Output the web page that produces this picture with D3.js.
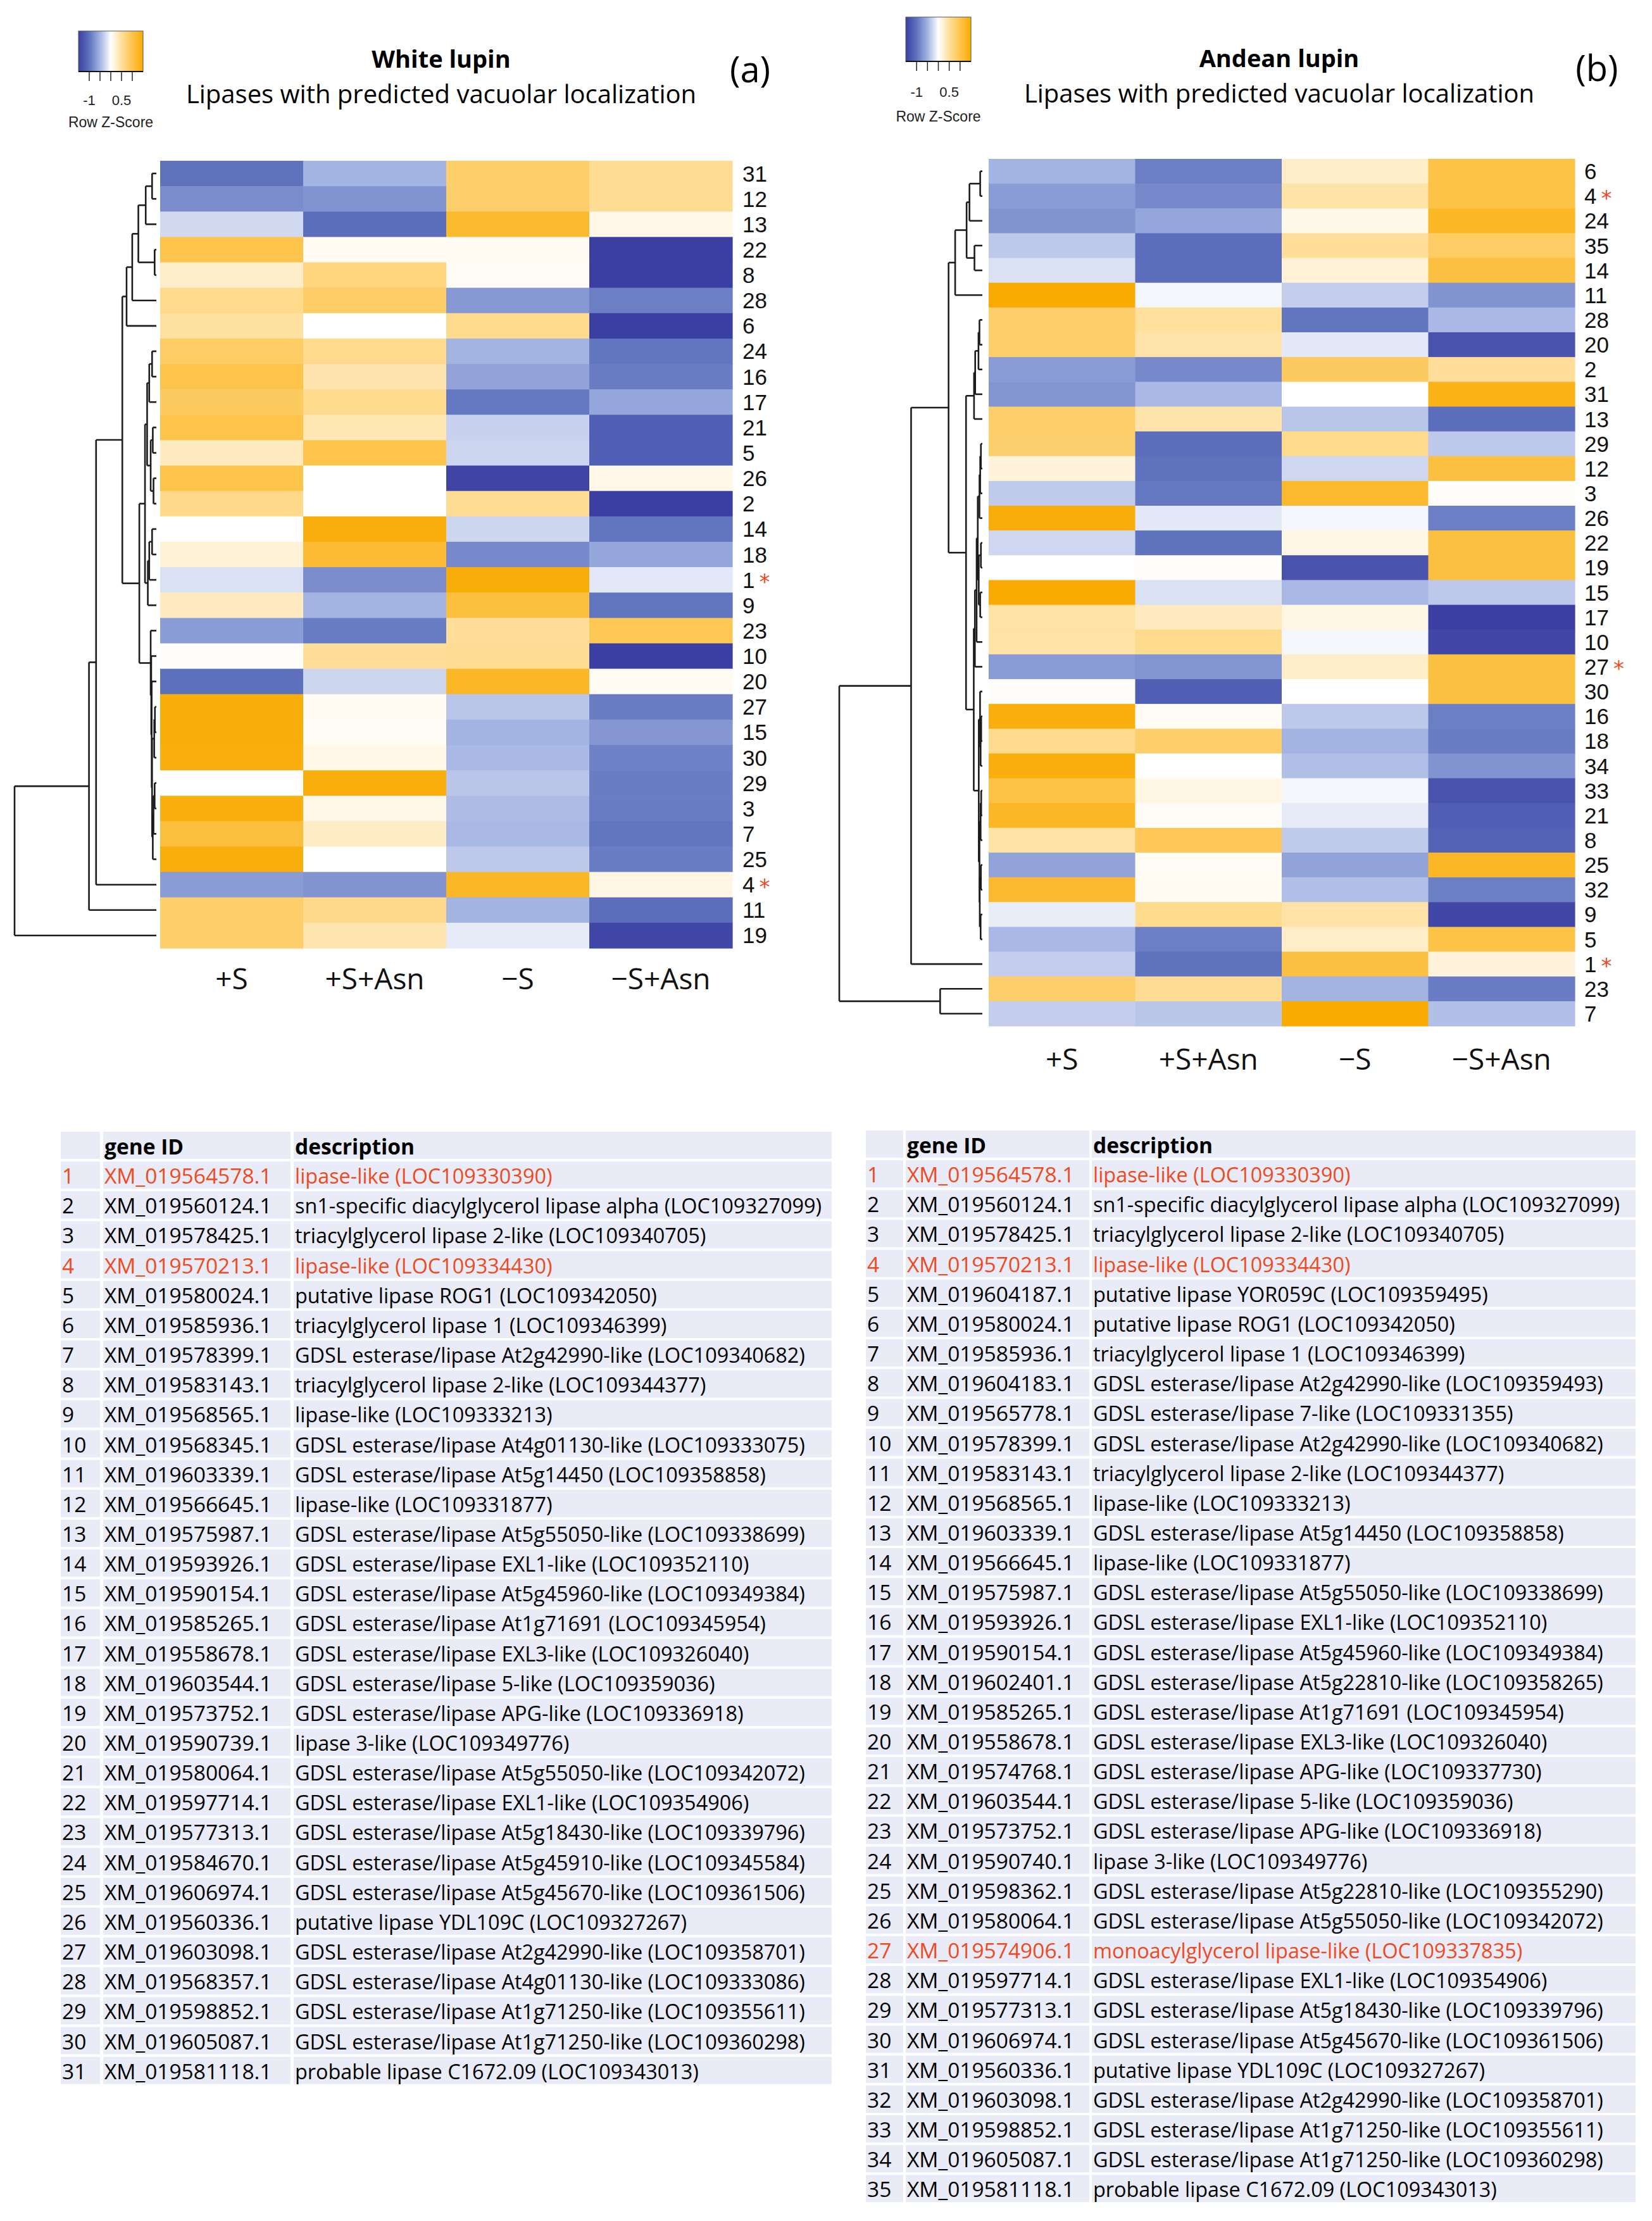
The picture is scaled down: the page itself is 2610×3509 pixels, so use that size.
<!DOCTYPE html>
<html><head><meta charset="utf-8">
<script src="https://cdn.jsdelivr.net/npm/d3@7"></script>
<style>html,body{margin:0;padding:0;background:#fff;}svg{display:block;}</style>
</head><body><svg id="chart" width="2610" height="3509"></svg>
<script>
// ---------------- DATA ----------------
const conditions = ["+S", "+S+Asn", "\u2212S", "\u2212S+Asn"];

// Panel (a) White lupin: row order top→bottom
const rowsA = ["31","12","13","22","8","28","6","24","16","17","21","5","26","2","14","18","1","9","23","10","20","27","15","30","29","3","7","25","4","11","19"];
const zA = [
  [-1.0,-0.5,0.8,0.55],[-0.8,-0.75,0.8,0.55],[-0.25,-1.05,1.2,0.12],[1.0,0.06,0.06,-1.5],
  [0.28,0.7,0.05,-1.5],[0.6,0.85,-0.7,-0.9],[0.48,0,0.6,-1.5],[0.85,0.6,-0.5,-0.97],
  [1.0,0.42,-0.62,-0.92],[0.88,0.6,-0.95,-0.6],[1.0,0.38,-0.3,-1.2],[0.33,1.0,-0.27,-1.2],
  [1.0,0,-1.45,0.12],[0.62,0,0.55,-1.5],[0,1.4,-0.27,-0.97],[0.2,1.15,-0.82,-0.6],
  [-0.2,-0.8,1.45,-0.15],[0.33,-0.5,1.1,-0.97],[-0.68,-0.92,0.52,0.95],[0.03,0.52,0.55,-1.5],
  [-1.02,-0.27,1.25,0.06],[1.45,0.06,-0.38,-0.92],[1.45,0.05,-0.5,-0.72],[1.4,0.12,-0.47,-0.88],
  [0,1.42,-0.38,-0.92],[1.4,0.12,-0.44,-0.92],[1.1,0.3,-0.47,-0.97],[1.42,0,-0.36,-0.92],
  [-0.68,-0.75,1.25,0.14],[0.82,0.62,-0.5,-1.05],[0.82,0.4,-0.13,-1.42]
];
const starredA = ["1","4"];
// dendrogram: [height, left, right]
const treeA =
[1.0,
  [0.475,
    [0.425,
      [0.24,
        [0.21,[0.17,[0.127,[0.075,[0.03,"31","12"],"13"],[0.012,"22","8"]],"28"],"6"],
        [0.12,
          [0.08,
            [0.065,[0.05,[0.03,"24","16"],"17"],[0.04,[0.025,"21","5"],[0.02,"26","2"]]],
            [0.06,[0.05,[0.03,"14","18"],"1"],"9"]
          ],
          [0.04,"23",[0.036,"10",[0.033,"20",[0.03,[0.015,[0.01,"27","15"],"30"],[0.025,[0.02,[0.012,"29","3"],"7"],"25"]]]]]
        ]
      ],
      "4"],
    "11"],
  "19"];

// Panel (b) Andean lupin
const rowsB = ["6","4","24","35","14","11","28","20","2","31","13","29","12","3","26","22","19","15","17","10","27","30","16","18","34","33","21","8","25","32","9","5","1","23","7"];
const zB = [
  [-0.5,-0.9,0.28,1.02],[-0.68,-0.82,0.45,1.02],[-0.75,-0.6,0.1,1.25],[-0.36,-1.05,0.52,0.85],
  [-0.2,-1.05,0.2,1.08],[1.48,-0.06,-0.32,-0.75],[0.82,0.5,-0.97,-0.47],[0.82,0.43,-0.15,-1.3],
  [-0.68,-0.82,0.88,0.52],[-0.74,-0.47,0,1.35],[0.82,0.43,-0.38,-1.05],[0.78,-1.05,0.6,-0.36],
  [0.18,-1.0,-0.26,1.08],[-0.34,-0.95,1.2,0.03],[1.45,-0.15,-0.06,-0.9],[-0.26,-1.0,0.13,1.08],
  [0,0.03,-1.3,1.08],[1.48,-0.2,-0.47,-0.36],[0.45,0.33,0.14,-1.5],[0.45,0.6,-0.06,-1.42],
  [-0.68,-0.74,0.28,1.08],[0.03,-1.2,0,1.08],[1.4,0.05,-0.36,-0.9],[0.58,0.82,-0.5,-0.92],
  [1.4,0,-0.42,-0.75],[1.02,0.14,-0.06,-1.3],[1.25,0.04,-0.13,-1.2],[0.45,0.92,-0.34,-1.15],
  [-0.62,0.05,-0.62,1.25],[1.2,0.07,-0.42,-0.9],[-0.12,0.6,0.45,-1.42],[-0.47,-0.9,0.28,1.02],
  [-0.32,-1.0,1.08,0.18],[0.82,0.55,-0.5,-0.92],[-0.32,-0.38,1.48,-0.42]
];
const starredB = ["4","27","1"];
const treeB =
[1.0,
  [0.498,
    [0.236,
      [0.19,[0.11,[0.09,[0.015,"6","4"],"24"],[0.055,"35","14"]],"11"],
      [0.114,
        [0.058,[0.05,[0.027,[0.02,"28","20"],"2"],"31"],"13"],
        [0.06,
          [0.052,[0.04,[0.032,[0.02,[0.015,[0.01,"29","12"],"3"],"26"],[0.025,[0.01,"22","19"],[0.015,"15","17"]]],"10"],"27"],
          [0.025,[0.016,"30",[0.012,[0.008,"16","18"],"34"]],[0.02,[0.012,[0.008,"33","21"],"8"],[0.018,[0.01,"25","32"],[0.012,"9","5"]]]]
        ]
      ]
    ],
    "1"],
  [0.295,"23","7"]];

const legendTicks = [-1, -0.5, 0, 0.5, 1];
const legendLabels = {"-1": "-1", "0.5": "0.5"};

// Tables
const idsA = ["XM_019564578.1","XM_019560124.1","XM_019578425.1","XM_019570213.1","XM_019580024.1","XM_019585936.1","XM_019578399.1","XM_019583143.1","XM_019568565.1","XM_019568345.1","XM_019603339.1","XM_019566645.1","XM_019575987.1","XM_019593926.1","XM_019590154.1","XM_019585265.1","XM_019558678.1","XM_019603544.1","XM_019573752.1","XM_019590739.1","XM_019580064.1","XM_019597714.1","XM_019577313.1","XM_019584670.1","XM_019606974.1","XM_019560336.1","XM_019603098.1","XM_019568357.1","XM_019598852.1","XM_019605087.1","XM_019581118.1"];
const descA = ["lipase-like (LOC109330390)","sn1-specific diacylglycerol lipase alpha (LOC109327099)","triacylglycerol lipase 2-like (LOC109340705)","lipase-like (LOC109334430)","putative lipase ROG1 (LOC109342050)","triacylglycerol lipase 1 (LOC109346399)","GDSL esterase/lipase At2g42990-like (LOC109340682)","triacylglycerol lipase 2-like (LOC109344377)","lipase-like (LOC109333213)","GDSL esterase/lipase At4g01130-like (LOC109333075)","GDSL esterase/lipase At5g14450 (LOC109358858)","lipase-like (LOC109331877)","GDSL esterase/lipase At5g55050-like (LOC109338699)","GDSL esterase/lipase EXL1-like (LOC109352110)","GDSL esterase/lipase At5g45960-like (LOC109349384)","GDSL esterase/lipase At1g71691 (LOC109345954)","GDSL esterase/lipase EXL3-like (LOC109326040)","GDSL esterase/lipase 5-like (LOC109359036)","GDSL esterase/lipase APG-like (LOC109336918)","lipase 3-like (LOC109349776)","GDSL esterase/lipase At5g55050-like (LOC109342072)","GDSL esterase/lipase EXL1-like (LOC109354906)","GDSL esterase/lipase At5g18430-like (LOC109339796)","GDSL esterase/lipase At5g45910-like (LOC109345584)","GDSL esterase/lipase At5g45670-like (LOC109361506)","putative lipase YDL109C (LOC109327267)","GDSL esterase/lipase At2g42990-like (LOC109358701)","GDSL esterase/lipase At4g01130-like (LOC109333086)","GDSL esterase/lipase At1g71250-like (LOC109355611)","GDSL esterase/lipase At1g71250-like (LOC109360298)","probable lipase C1672.09 (LOC109343013)"];
const highlightA = [1, 4];
const idsB = ["XM_019564578.1","XM_019560124.1","XM_019578425.1","XM_019570213.1","XM_019604187.1","XM_019580024.1","XM_019585936.1","XM_019604183.1","XM_019565778.1","XM_019578399.1","XM_019583143.1","XM_019568565.1","XM_019603339.1","XM_019566645.1","XM_019575987.1","XM_019593926.1","XM_019590154.1","XM_019602401.1","XM_019585265.1","XM_019558678.1","XM_019574768.1","XM_019603544.1","XM_019573752.1","XM_019590740.1","XM_019598362.1","XM_019580064.1","XM_019574906.1","XM_019597714.1","XM_019577313.1","XM_019606974.1","XM_019560336.1","XM_019603098.1","XM_019598852.1","XM_019605087.1","XM_019581118.1"];
const descB = ["lipase-like (LOC109330390)","sn1-specific diacylglycerol lipase alpha (LOC109327099)","triacylglycerol lipase 2-like (LOC109340705)","lipase-like (LOC109334430)","putative lipase YOR059C (LOC109359495)","putative lipase ROG1 (LOC109342050)","triacylglycerol lipase 1 (LOC109346399)","GDSL esterase/lipase At2g42990-like (LOC109359493)","GDSL esterase/lipase 7-like (LOC109331355)","GDSL esterase/lipase At2g42990-like (LOC109340682)","triacylglycerol lipase 2-like (LOC109344377)","lipase-like (LOC109333213)","GDSL esterase/lipase At5g14450 (LOC109358858)","lipase-like (LOC109331877)","GDSL esterase/lipase At5g55050-like (LOC109338699)","GDSL esterase/lipase EXL1-like (LOC109352110)","GDSL esterase/lipase At5g45960-like (LOC109349384)","GDSL esterase/lipase At5g22810-like (LOC109358265)","GDSL esterase/lipase At1g71691 (LOC109345954)","GDSL esterase/lipase EXL3-like (LOC109326040)","GDSL esterase/lipase APG-like (LOC109337730)","GDSL esterase/lipase 5-like (LOC109359036)","GDSL esterase/lipase APG-like (LOC109336918)","lipase 3-like (LOC109349776)","GDSL esterase/lipase At5g22810-like (LOC109355290)","GDSL esterase/lipase At5g55050-like (LOC109342072)","monoacylglycerol lipase-like (LOC109337835)","GDSL esterase/lipase EXL1-like (LOC109354906)","GDSL esterase/lipase At5g18430-like (LOC109339796)","GDSL esterase/lipase At5g45670-like (LOC109361506)","putative lipase YDL109C (LOC109327267)","GDSL esterase/lipase At2g42990-like (LOC109358701)","GDSL esterase/lipase At1g71250-like (LOC109355611)","GDSL esterase/lipase At1g71250-like (LOC109360298)","probable lipase C1672.09 (LOC109343013)"];
const highlightB = [1, 4, 27];

// ---------------- DRAWING ----------------
const svg = d3.select("#chart");
svg.append("rect").attr("width", 2610).attr("height", 3509).attr("fill", "#ffffff");

const color = d3.scaleLinear()
  .domain([-1.5, -1, -0.5, 0, 0.5, 1, 1.5])
  .range(["#3b3fa2", "#5e72be", "#a3b3e2", "#ffffff", "#fedf9c", "#fdc44c", "#f9aa00"])
  .clamp(true);

const RED = "#ee4a22";
const SANS = "'Open Sans', 'Noto Sans', sans-serif";
const ARIAL = "'Liberation Sans', Arial, sans-serif";
const NARROW = "'Liberation Sans Narrow', 'Liberation Sans', Arial, sans-serif";

const defs = svg.append("defs");
const grad = defs.append("linearGradient").attr("id", "zgrad").attr("x1", "0%").attr("x2", "100%");
d3.range(0, 1.0001, 0.05).forEach(t => {
  grad.append("stop").attr("offset", (t * 100) + "%").attr("stop-color", color(-1.5 + 3 * t));
});

function drawPanel(cfg) {
  const g = svg.append("g");
  const x = d3.scaleBand().domain(conditions).range([cfg.x0, cfg.x1]);
  const y = d3.scaleBand().domain(cfg.rows).range([cfg.y0, cfg.y1]);

  // cells
  cfg.rows.forEach((r, i) => {
    conditions.forEach((c, j) => {
      g.append("rect")
        .attr("x", x(c)).attr("y", y(r))
        .attr("width", x.bandwidth() + 0.6).attr("height", y.bandwidth() + 0.6)
        .attr("fill", color(cfg.z[i][j]));
    });
  });

  // row labels
  cfg.rows.forEach(r => {
    const cy = y(r) + y.bandwidth() / 2;
    const t = g.append("text")
      .attr("x", cfg.labelX).attr("y", cy + 12.5)
      .attr("font-family", ARIAL).attr("font-size", 35).attr("fill", "#111")
      .text(r);
    if (cfg.starred.includes(r)) {
      const w = t.node().getComputedTextLength();
      g.append("text")
        .attr("x", cfg.labelX + w + 7).attr("y", cy + 15)
        .attr("font-family", "'DejaVu Sans', sans-serif").attr("font-size", 34)
        .attr("fill", RED).text("*");
    }
  });

  // column labels
  conditions.forEach(c => {
    g.append("text")
      .attr("x", x(c) + x.bandwidth() / 2).attr("y", cfg.colLabelY)
      .attr("text-anchor", "middle")
      .attr("font-family", SANS).attr("font-size", 46).attr("fill", "#111")
      .text(c);
  });

  // dendrogram
  const hx = d3.scaleLinear().domain([0, 1]).range([cfg.leafX, cfg.rootX]);
  const dg = g.append("g").attr("stroke", "#1c1c1c").attr("stroke-width", 2.6).attr("fill", "none");
  function walk(node) {
    if (typeof node === "string") return { y: y(node) + y.bandwidth() / 2, h: 0 };
    const [h, a, b] = node;
    const ca = walk(a), cb = walk(b);
    const xx = hx(h);
    dg.append("line").attr("x1", xx).attr("x2", xx).attr("y1", ca.y).attr("y2", cb.y);
    dg.append("line").attr("x1", xx).attr("x2", hx(ca.h)).attr("y1", ca.y).attr("y2", ca.y);
    dg.append("line").attr("x1", xx).attr("x2", hx(cb.h)).attr("y1", cb.y).attr("y2", cb.y);
    return { y: (ca.y + cb.y) / 2, h };
  }
  walk(cfg.tree);

  // legend
  const lx = d3.scaleLinear().domain([-1.5, 1.5]).range([cfg.legX0, cfg.legX1]);
  g.append("rect").attr("x", cfg.legX0).attr("y", cfg.legY0)
    .attr("width", cfg.legX1 - cfg.legX0).attr("height", cfg.legY1 - cfg.legY0)
    .attr("fill", "url(#zgrad)").attr("stroke", "#555").attr("stroke-width", 1);
  g.append("line").attr("x1", cfg.legX0).attr("x2", cfg.legX1)
    .attr("y1", cfg.legY1).attr("y2", cfg.legY1).attr("stroke", "#111").attr("stroke-width", 2);
  legendTicks.forEach(t => {
    g.append("line").attr("x1", lx(t)).attr("x2", lx(t))
      .attr("y1", cfg.legY1).attr("y2", cfg.legY1 + 15)
      .attr("stroke", "#222").attr("stroke-width", 1.5);
    if (legendLabels[String(t)]) {
      g.append("text").attr("x", lx(t)).attr("y", cfg.legLabY)
        .attr("text-anchor", "middle").attr("font-family", NARROW)
        .attr("font-size", 22).attr("fill", "#222").text(legendLabels[String(t)]);
    }
  });
  g.append("text").attr("x", (cfg.legX0 + cfg.legX1) / 2).attr("y", cfg.legTitleY)
    .attr("text-anchor", "middle").attr("font-family", NARROW)
    .attr("font-size", 23).attr("fill", "#222").text("Row Z-Score");

  // titles
  g.append("text").attr("x", cfg.titleX).attr("y", cfg.titleY)
    .attr("text-anchor", "middle").attr("font-family", SANS).attr("font-weight", "bold")
    .attr("font-size", 38).attr("fill", "#000").text(cfg.title);
  g.append("text").attr("x", cfg.titleX).attr("y", cfg.titleY + 56)
    .attr("text-anchor", "middle").attr("font-family", SANS)
    .attr("font-size", 40).attr("fill", "#000").text("Lipases with predicted vacuolar localization");
  g.append("text").attr("x", cfg.tagX).attr("y", cfg.tagY)
    .attr("text-anchor", "middle").attr("font-family", SANS)
    .attr("font-size", 56).attr("fill", "#000").text(cfg.tag);
}

drawPanel({
  rows: rowsA, z: zA, starred: starredA, tree: treeA,
  x0: 253, x1: 1157, y0: 254, y1: 1498, labelX: 1173, colLabelY: 1563,
  leafX: 247, rootX: 23,
  legX0: 124, legX1: 226, legY0: 49, legY1: 113, legLabY: 166, legTitleY: 201,
  title: "White lupin", titleX: 697, titleY: 107, tag: "(a)", tagX: 1185, tagY: 130
});
drawPanel({
  rows: rowsB, z: zB, starred: starredB, tree: treeB,
  x0: 1562, x1: 2488, y0: 251, y1: 1621, labelX: 2503, colLabelY: 1690,
  leafX: 1552, rootX: 1326,
  legX0: 1431, legX1: 1534, legY0: 27, legY1: 97, legLabY: 153, legTitleY: 192,
  title: "Andean lupin", titleX: 2021, titleY: 106, tag: "(b)", tagX: 2523, tagY: 128
});

// tables
function drawTable(cfg) {
  const g = svg.append("g");
  const n = cfg.ids.length;
  const rowY = i => cfg.top + i * cfg.pitch;  // i = 0 header
  for (let i = 0; i <= n; i++) {
    cfg.cols.forEach(([a, b]) => {
      g.append("rect").attr("x", a).attr("y", rowY(i)).attr("width", b - a)
        .attr("height", cfg.cellH).attr("fill", "#e9ebf7");
    });
  }
  g.append("text").attr("x", cfg.cols[1][0] + 2).attr("y", rowY(0) + 36)
    .attr("font-family", SANS).attr("font-weight", "bold").attr("font-size", 33.5)
    .attr("fill", "#000").text("gene ID");
  g.append("text").attr("x", cfg.cols[2][0] + 2).attr("y", rowY(0) + 36)
    .attr("font-family", SANS).attr("font-weight", "bold").attr("font-size", 33.5)
    .attr("fill", "#000").text("description");
  cfg.ids.forEach((id, k) => {
    const i = k + 1;
    const fill = cfg.highlight.includes(i) ? RED : "#000";
    const by = rowY(i) + 35;
    [[cfg.cols[0][0], String(i), 33.5], [cfg.cols[1][0], id, 33.5], [cfg.cols[2][0], cfg.descs[k], 32.4]].forEach(([xx, s, fs]) => {
      g.append("text").attr("x", xx + 2).attr("y", by)
        .attr("font-family", SANS).attr("font-size", fs).attr("fill", fill).text(s);
    });
  });
}

drawTable({ ids: idsA, descs: descA, highlight: highlightA,
  cols: [[96, 158], [163, 459], [464, 1314]], top: 1788, pitch: 47.15, cellH: 43 });
drawTable({ ids: idsB, descs: descB, highlight: highlightB,
  cols: [[1368, 1427], [1431, 1721], [1725, 2584]], top: 1786, pitch: 47.15, cellH: 43 });
</script>
</body></html>
